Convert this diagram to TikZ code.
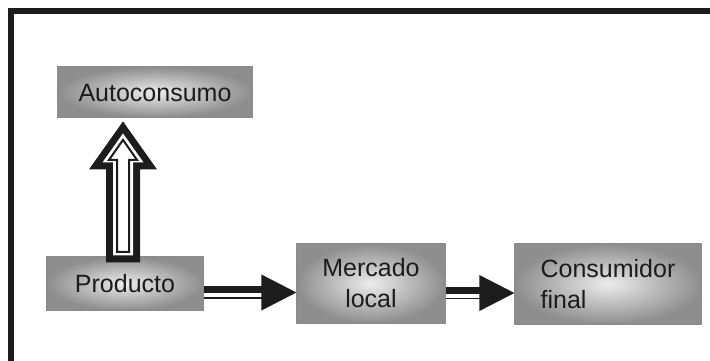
\documentclass[tikz,border=0pt]{standalone}
\usepackage{fontspec}
\setmainfont{Liberation Sans}
\usetikzlibrary{calc,backgrounds}
\definecolor{ink}{HTML}{1C1C1C}
\definecolor{boxedge}{HTML}{8C8C8C}
\definecolor{boxin}{HTML}{ECECEC}
\definecolor{boxout}{HTML}{8E8E8E}
\definecolor{shadowc}{HTML}{9C9C9C}
\begin{document}
\begin{tikzpicture}[x=1pt,y=-1pt,
  box/.style={draw=boxedge, line width=1.2pt, inner color=boxin, outer color=boxout,
    font=\fontsize{25}{31}\selectfont, text=ink, inner sep=0pt},
  shadowline/.style={draw=shadowc, line width=1.6pt},
  arrowfill/.style={fill=ink}]
\clip (0,0) rectangle (710,360);
\fill[white] (0,0) rectangle (710,360);
% outer frame (only top and left edges visible)
\draw[ink, line width=6pt] (11,420) -- (11,11) -- (780,11);

% boxes
\node[box, minimum width=194pt, minimum height=50pt, text height=18pt, text depth=0pt] (auto) at (155,92) {Autoconsumo};
\node[box, minimum width=156pt, minimum height=53pt, text height=18pt, text depth=0pt] (prod) at (125,283.5) {Producto};
\node[box, minimum width=148pt, minimum height=79pt, align=center] (merc) at (371,283.5) {Mercado\\local};
\node[box, minimum width=186pt, minimum height=80pt, align=left] (cons) at (608,284) {Consumidor\\final};

% shadows
\begin{scope}[on background layer]
  \foreach \n in {auto,prod,merc,cons}{
    \draw[shadowline] ($(\n.south west)+(3,4)$) rectangle ($(\n.north east)+(3,4)$);
  }
\end{scope}

% vertical hollow arrow: Producto -> Autoconsumo
\coordinate (vb) at ($(prod.north)+(-2,6)$);
\begin{scope}[shift={(vb)}]
  \fill[ink] (-17,0) -- (17,0) -- (17,-93) -- (34,-93) -- (0,-141) -- (-34,-93) -- (-17,-93) -- cycle;
  \fill[white] (-10,-7) -- (10,-7) -- (10,-100) -- (20.5,-100) -- (0,-129) -- (-20.5,-100) -- (-10,-100) -- cycle;
  \draw[ink, line width=2pt, fill=white, line join=miter] (-6,-10.5) -- (6,-10.5) -- (6,-102.5) -- (14,-102.5) -- (0,-122.5) -- (-14,-102.5) -- (-6,-102.5) -- cycle;
\end{scope}

% horizontal arrow: Producto -> Mercado local
\coordinate (h1) at ($(merc.west)+(0,9)$);
\coordinate (s1) at (prod.east |- h1);
\fill[arrowfill] ($(s1)+(0,-6.5)$) rectangle ($(h1)+(-33,0.5)$);
\fill[arrowfill] ($(s1)+(0,4.6)$) rectangle ($(h1)+(-33,6.4)$);
\fill[arrowfill] (h1) -- ++(-35,-18) -- ++(0,36) -- cycle;

% horizontal arrow: Mercado local -> Consumidor final
\coordinate (h2) at ($(cons.west)+(0,9)$);
\coordinate (s2) at (merc.east |- h2);
\fill[arrowfill] ($(s2)+(0,-6.5)$) rectangle ($(h2)+(-33,0.5)$);
\fill[arrowfill] ($(s2)+(0,4.6)$) rectangle ($(h2)+(-33,6.4)$);
\fill[arrowfill] (h2) -- ++(-35,-18) -- ++(0,36) -- cycle;
\end{tikzpicture}
\end{document}
